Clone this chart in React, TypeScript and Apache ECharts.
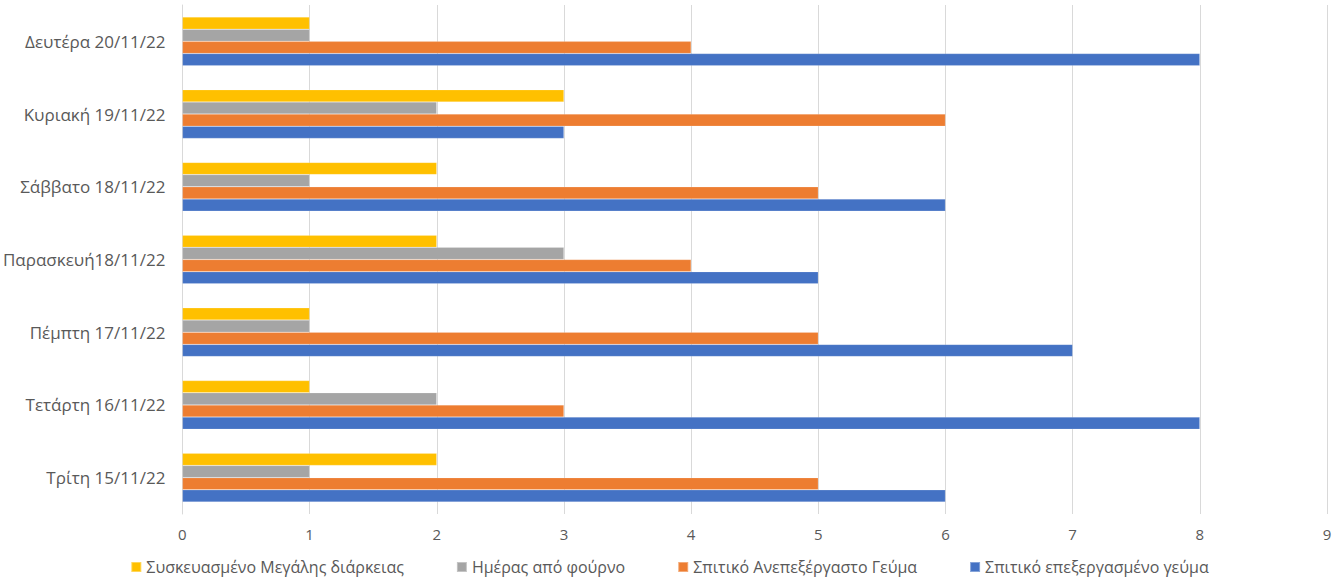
import React, { useEffect, useRef } from "react";
import * as echarts from "echarts";

const categories = [
  "Τρίτη 15/11/22",
  "Τετάρτη 16/11/22",
  "Πέμπτη 17/11/22",
  "Παρασκευή18/11/22",
  "Σάββατο 18/11/22",
  "Κυριακή 19/11/22",
  "Δευτέρα 20/11/22",
];

const packagedLongLife = [2, 1, 1, 2, 2, 3, 1];
const bakeryDaily = [1, 2, 1, 3, 1, 2, 1];
const unprocessedHome = [5, 3, 5, 4, 5, 6, 4];
const processedHome = [6, 8, 7, 5, 6, 3, 8];

const seriesNames = [
  "Συσκευασμένο Μεγάλης διάρκειας",
  "Ημέρας από φούρνο",
  "Σπιτικό Ανεπεξέργαστο Γεύμα",
  "Σπιτικό επεξεργασμένο γεύμα",
];
const colors = ["#FFC000", "#A5A5A5", "#ED7D31", "#4472C4"];

export default function App() {
  const ref = useRef<HTMLDivElement>(null);
  useEffect(() => {
    if (!ref.current) return;
    const chart = echarts.init(ref.current, null, { renderer: "svg" });
    const font = "'Open Sans', 'Noto Sans', sans-serif";
    const data = [packagedLongLife, bakeryDaily, unprocessedHome, processedHome];
    chart.setOption({
      animation: false,
      textStyle: { fontFamily: font },
      grid: { left: 180, right: 12, top: 5, bottom: 69, containLabel: false },
      legend: {
        data: seriesNames,
        bottom: 3,
        left: "center",
        itemWidth: 10,
        itemHeight: 10,
        itemGap: 52,
        icon: "rect",
        textStyle: { color: "#595959", fontSize: 16, fontFamily: font },
      },
      xAxis: {
        type: "value",
        min: 0,
        max: 9,
        interval: 1,
        axisLine: { show: false },
        axisTick: { show: false },
        axisLabel: { color: "#595959", fontSize: 15, margin: 12, fontFamily: font },
        splitLine: { show: true, lineStyle: { color: "#D9D9D9", width: 1 } },
      },
      yAxis: {
        type: "category",
        data: categories,
        axisLine: { show: true, lineStyle: { color: "#D9D9D9" } },
        axisTick: { show: false },
        axisLabel: { color: "#595959", fontSize: 17, margin: 17, fontFamily: font },
      },
      series: seriesNames.map((name, i) => ({
        name,
        type: "bar",
        data: data[i],
        barGap: "0%",
        barCategoryGap: "33%",
        itemStyle: { color: colors[i], borderColor: "rgba(255,255,255,0.35)", borderWidth: 0.5 },
      })),
    });
    return () => chart.dispose();
  }, []);
  return (
    <div
      ref={ref}
      style={{ position: "absolute", left: 0, top: 0, width: 1339, height: 583 }}
    />
  );
}
